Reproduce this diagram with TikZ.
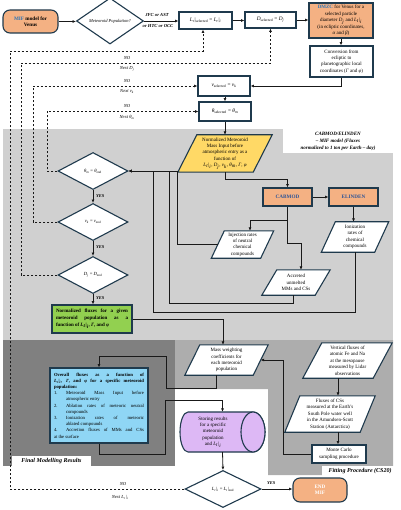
\documentclass[tikz,border=0pt]{standalone}
\usepackage{fontspec}
\setmainfont{Liberation Serif}
\usetikzlibrary{shapes.geometric,arrows.meta,calc}
\pgfdeclarelayer{regions}
\pgfdeclarelayer{plates}
\pgfsetlayers{regions,plates,main}

\definecolor{edge}{HTML}{1F3A4D}
\definecolor{orng}{HTML}{F4B183}
\definecolor{ylw}{HTML}{FFD966}
\definecolor{grn}{HTML}{92D050}
\definecolor{sky}{HTML}{8FD6F5}
\definecolor{lav}{HTML}{DDB8F5}
\definecolor{reg1}{HTML}{D0D0D0}
\definecolor{reg2}{HTML}{808080}
\definecolor{reg3}{HTML}{ADADAD}
\definecolor{titleblue}{HTML}{2E75B6}
\definecolor{capblue}{HTML}{2F5597}

% symbols set in the text font so that they follow the node sizes
\newcommand\symsub[2]{\textit{#1}\textsubscript{#2}}
\newcommand\Lt[1]{\textit{L}\textsubscript{\textit{t}}\kern0.2pt|\textsubscript{#1}}
\newcommand\enumline[2]{\par\hangindent=12pt\hangafter=1\noindent\makebox[12pt][l]{#1}#2}

\tikzset{
  base/.style={font=\fontsize{5}{6.4}\selectfont, align=center, inner sep=0pt, text=black},
  blk/.style={base, rectangle, draw=edge, line width=1.1pt, fill=white},
  term/.style={blk, rounded corners=7pt, fill=orng, font=\fontsize{5.2}{6.4}\selectfont\bfseries},
  formula/.style={blk, font=\fontsize{5.3}{6.4}\selectfont},
  dec/.style={base, diamond, draw=edge, line width=1.1pt, fill=white, minimum width=70pt, minimum height=37pt, font=\fontsize{4.7}{5}\selectfont},
  io/.style={base, rectangle},
  plate/.style={draw=edge, line width=1.1pt, fill=white, line join=miter},
  link/.style={draw=black!90, line width=0.8pt, -{Latex[length=3.4pt,width=3pt]}},
  retry/.style={link, dashed, dash pattern=on 2.4pt off 1.6pt},
  tag/.style={font=\fontsize{4.6}{5}\selectfont\itshape, inner sep=0pt},
  yes/.style={font=\fontsize{4.4}{5}\selectfont\bfseries\itshape, inner sep=0pt, anchor=west},
  region/.style={font=\fontsize{5}{7}\selectfont\bfseries\itshape, align=center, inner sep=0pt},
  modelbox/.style={blk, fill=orng, minimum width=49pt, minimum height=18pt, font=\fontsize{5.2}{6}\selectfont\bfseries, text=capblue},
}

\begin{document}
\begin{tikzpicture}[x=1pt,y=-1pt]
\useasboundingbox (0,0) rectangle (400,510);

% shaded stages of the workflow
\begin{pgfonlayer}{regions}
  \fill[reg1] (3,129) rectangle (393,340);
  \fill[reg2] (3,340) rectangle (175,466);
  \fill[reg3] (175,340) -- (393,340) -- (393,475) -- (268,475) -- (268,389) -- (175,389) -- cycle;
  \fill[white] (283,129) rectangle (393,153);
  \fill[white] (12,456) rectangle (91,467);
  \fill[white] (322,466) rectangle (397,476);
\end{pgfonlayer}

\node[region] (capA) at (338,141) {CABMOD/ELINDEN\\– MIF model (Fluxes\\normalized to 1 ton per Earth – day)};
\node[region, font=\fontsize{6}{7}\selectfont\bfseries\itshape] (capB) at (51.5,461.5) {Final Modelling Results};
\node[region, font=\fontsize{6}{7}\selectfont\bfseries\itshape] (capC) at (360,471) {Fitting Procedure (CS20)};

% top row
\node[term, minimum width=55pt, minimum height=23pt] (mif) at (30.5,21.5) {\textcolor{titleblue}{MIF} model for\\Venus};
\node[dec, minimum width=67pt, font=\fontsize{4.5}{5}\selectfont\itshape] (pop) at (110,21) {Meteoroid Population?};
\node[formula, minimum width=53pt, minimum height=17pt] (lsel) at (205.5,20.5) {\Lt{selected} = \Lt{\textit{i}}};
\node[formula, minimum width=51pt, minimum height=16pt] (dsel) at (270.5,20) {\symsub{D}{selected} = \symsub{D}{\textit{j}}};
\node[blk, fill=orng, minimum width=64pt, minimum height=35pt] (dmzc) at (341,20.5) {\textcolor{titleblue}{\textbf{DMZC}} for Venus for a\\selected particle\\diameter \symsub{D}{\textit{j}} and \Lt{\textit{i}}\\(in ecliptic coordinates,\\\textit{α} and \textit{β})};
\node[blk, minimum width=63pt, minimum height=31pt] (conv) at (341.5,61.5) {Conversion from\\ecliptic to\\planetographic local\\coordinates (\textit{Γ} and \textit{φ})};
\node[formula, minimum width=52pt, minimum height=20pt] (vsel) at (224,86) {\symsub{v}{selected} = \symsub{v}{\textit{k}}};
\node[formula, minimum width=52pt, minimum height=19pt] (tsel) at (225,111.5) {\symsub{θ}{selected} = \symsub{θ}{\textit{m}}};

% CABMOD / ELINDEN stage
\node[io, minimum width=75pt, minimum height=37pt] (norm) at (225,153.5) {Normalized Meteoroid\\Mass Input before\\atmospheric entry as a\\function of\\\Lt{\textit{i}}, \symsub{D}{\textit{j}}, \symsub{v}{\textit{k}}, \symsub{θ}{\textit{m}}, \textit{Γ}, \textit{φ}};
\node[dec] (thd) at (93,171) {\symsub{θ}{\textit{m}} = \symsub{θ}{end}};
\node[dec] (vd) at (93,222) {\symsub{v}{\textit{k}} = \symsub{v}{end}};
\node[dec] (dd) at (93,275) {\symsub{D}{\textit{j}} = \symsub{D}{end}};
\node[blk, fill=grn, text width=72pt, align=justify, inner sep=4pt, minimum height=28pt, font=\fontsize{5}{7}\selectfont\bfseries] (grnb) at (92,319) {Normalized fluxes for a given\linebreak meteoroid population as a\linebreak function of \Lt{\textit{i}}, \textit{Γ}, and \textit{φ}};
\node[modelbox] (cab) at (287.5,197) {CABMOD};
\node[modelbox] (eli) at (353.5,197) {ELINDEN};
\node[io, minimum width=49pt, minimum height=27pt] (inj) at (242.5,244.5) {Injection rates\\of neutral\\chemical\\compounds};
\node[io, minimum width=53pt, minimum height=30pt] (ion) at (355,237) {Ionization\\rates of\\chemical\\compounds};
\node[io, minimum width=53pt, minimum height=25pt] (accr) at (296,282.5) {Accreted\\unmelted\\MMs and CSs};

% fitting stage
\node[io, minimum width=68pt, minimum height=30pt] (mass) at (226.5,360) {Mass weighting\\coefficients for\\each meteoroid\\population};
\node[io, minimum width=70pt, minimum height=35pt] (vert) at (347.5,360.5) {Vertical fluxes of\\atomic Fe and Na\\at the mesopause\\measured by Lidar\\observations};
\node[io, minimum width=75pt, minimum height=36pt] (csf) at (330,414) {Fluxes of CSs\\measured at the Earth’s\\South Pole water well\\in the Amundsen-Scott\\Station (Antarctica)};
\node[blk, minimum width=54pt, minimum height=18pt] (mc) at (339,454) {Monte Carlo\\sampling procedure};

% final results
\node[blk, fill=sky, text width=90pt, align=justify, inner sep=4pt, minimum height=75pt, font=\fontsize{4.7}{6.2}\selectfont] (ovr) at (99,405.5) {{\bfseries Overall fluxes as a function of\linebreak \Lt{\textit{i}}, \textit{Γ}, and \textit{φ} for a specific meteoroid\linebreak population:}\enumline{1.}{Meteoroid Mass Input before\linebreak atmospheric entry}\enumline{2.}{Ablation rates of meteoric neutral\linebreak compounds}\enumline{3.}{Ionization rates of meteoric\linebreak ablated compounds}\enumline{4.}{Accretion fluxes of MMs and CSs\linebreak at the surface}};
\node[io, minimum width=85pt, minimum height=40pt] (cyl) at (222.5,432) {};
\node[base] (cyltext) at (213,432) {Storing results\\for a specific\\meteoroid\\population\\and \Lt{\textit{i}}};
\node[dec, minimum width=76pt] (lend) at (223,489) {\Lt{\textit{i}} = \Lt{end}};
\node[term, minimum width=54pt, minimum height=24pt, text=white] (endm) at (320,490) {END\\MIF};

% parallelogram and storage outlines
\begin{pgfonlayer}{plates}
  \foreach \n/\s/\c in {norm/19/ylw, inj/13/white, ion/14/white, accr/15/white, mass/15/white, vert/19/white, csf/15/white}{
    \path[plate, fill=\c] ($(\n.south west)+(-\s/2,0)$) -- ($(\n.south east)+(-\s/2,0)$) -- ($(\n.north east)+(\s/2,0)$) -- ($(\n.north west)+(\s/2,0)$) -- cycle;
  }
  \path[plate, fill=lav] (188,412) -- (253,412) arc[start angle=-90, end angle=90, x radius=12, y radius=20] -- (188,452) arc[start angle=90, end angle=270, x radius=8, y radius=20] -- cycle;
  \draw[plate, fill=lav] (253,432) ellipse[x radius=12, y radius=20];
\end{pgfonlayer}

% main flow
\draw[link] (mif.east) -- (mif.east -| pop.west);
\draw[link] (pop.east) -- (pop.east -| lsel.west);
\node[tag, font=\fontsize{4.6}{5}\selectfont\bfseries\itshape] (jfc) at (157,15) {JFC or AST};
\node[tag, font=\fontsize{4.6}{5}\selectfont\bfseries\itshape] (orr) at (158,26) {or HTC or OCC};
\draw[link] (lsel.east) -- (lsel.east -| dsel.west);
\draw[link] (dsel.east) -- (dsel.east -| dmzc.west);
\draw[link] (dmzc.south) -- (dmzc.south |- conv.north);
\draw[link] (conv.south) |- (vsel.east);
\draw[link] (vsel.south -| tsel.south) -- (tsel.north);
\draw[link] (tsel.south) -- (tsel.south |- norm.north);
\draw[link] (norm.south) -- ++(0,7) -| (cab.north);
\draw[link] (cab.east) -- (eli.west);
\draw[link] (eli.south) -- (eli.south |- ion.north);
\draw[link] (cab.south) -- ++(0,14) -| ([xshift=7.5pt]inj.north);
\draw[link] (cab.south) -- ++(0,37) -| ([xshift=5pt]accr.north);

% returns to the angle test
\draw[link] (ion.south) |- (153,312) |- (thd.east);
\draw[link] ([xshift=-3pt]accr.south) |- (169,303) |- (thd.east);
\draw[link] (inj.west) -| (177,171) -- (thd.east);

% nested loop tests
\draw[link] (thd.south) -- (vd.north);
\node[yes] (y1) at (96,196) {YES};
\draw[link] (vd.south) -- (dd.north);
\node[yes] (y2) at (96,247) {YES};
\draw[link] (dd.south) -- (dd.south |- grnb.north);
\node[yes] (y3) at (96,298) {YES};

\draw[retry] (thd.west) -| (47,111.5) -- (tsel.west);
\node[tag] (noC) at (127,106.5) {NO};
\node[tag] (nxC) at (127,117) {Next \symsub{θ}{\textit{m}}};
\draw[retry] (vd.west) -| (33,86) -- (vsel.west);
\node[tag] (noB) at (127,81) {NO};
\node[tag] (nxB) at (127,91) {Next \symsub{v}{\textit{k}}};
\draw[retry] (dd.west) -| (21,63) -| (dsel.south);
\node[tag] (noA) at (127,58) {NO};
\node[tag] (nxA) at (127,69) {Next \symsub{D}{\textit{j}}};
\draw[retry] (lend.west) -| (10,51) -| ([xshift=-2.5pt]lsel.south);
\node[tag] (noD) at (123,484) {NO};
\node[tag] (nxD) at (120,497) {Next \Lt{\textit{i}}};

% fitting and final results
\draw[link] (grnb.east) -| ([xshift=-3.5pt]mass.north);
\draw[link] ([xshift=-9.5pt]vert.south) -- ([xshift=-9.5pt]vert.south |- csf.north);
\draw[link] ([xshift=8pt]csf.south) -- ([xshift=8pt]csf.south |- mc.north);
\draw[link] (mc.west) -| (283,360) -- (mass.east);
\draw[link] ([xshift=-10.5pt]mass.south) -- ++(0,13) -| (166,356) -| (ovr.north);
\draw[link] (ovr.south) -- ++(0,11) -| (165,400) -| (cyl.north);
\draw[link] (cyl.south) -- (lend.north);
\draw[link] (lend.east) -- (lend.east -| endm.west);
\node[yes] (y4) at (267,483) {YES};

\end{tikzpicture}
\end{document}
